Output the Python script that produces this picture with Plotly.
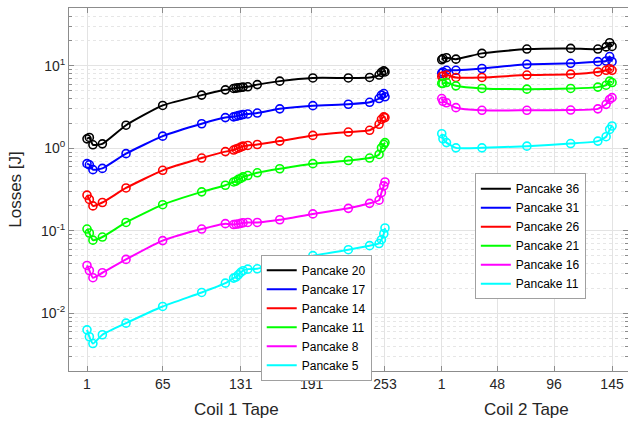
import plotly.graph_objects as go
import math

# ---------------- data ----------------
coil1_tape = [1, 3, 6, 14, 34, 65, 98, 118, 125, 127, 129, 131, 133, 137, 145,
              164, 192, 222, 240, 248, 250, 252, 253]
coil2_tape = [1, 2, 5, 13, 35, 73, 110, 133, 140, 143, 145]
coil2_offset = 300  # coil 2 drawn to the right of coil 1 on a shared axis

coil1_names = ["Pancake 20", "Pancake 17", "Pancake 14", "Pancake 11", "Pancake 8", "Pancake 5"]
coil2_names = ["Pancake 36", "Pancake 31", "Pancake 26", "Pancake 21", "Pancake 16", "Pancake 11"]
colors = ["#000000", "#0000ff", "#ff0000", "#00ff00", "#ff00ff", "#00ffff"]

p20 = [1.30, 1.35, 1.10, 1.13, 1.90, 3.3, 4.4, 5.1, 5.3, 5.35, 5.4, 5.45, 5.5, 5.55, 5.9,
       6.5, 7.1, 7.1, 7.2, 7.7, 8.3, 8.65, 8.4]
p17 = [0.65, 0.63, 0.55, 0.57, 0.86, 1.40, 1.98, 2.35, 2.40, 2.44, 2.48, 2.52, 2.56, 2.60, 2.67,
       3.0, 3.28, 3.41, 3.6, 4.0, 4.4, 4.6, 4.2]
p14 = [0.27, 0.24, 0.20, 0.22, 0.33, 0.54, 0.76, 0.91, 0.95, 0.98, 1.0, 1.03, 1.06, 1.08, 1.11,
       1.22, 1.43, 1.57, 1.65, 1.95, 2.24, 2.4, 2.35]
p11a = [0.105, 0.094, 0.077, 0.084, 0.126, 0.207, 0.296, 0.356, 0.39, 0.40, 0.42, 0.43, 0.45, 0.467, 0.504,
        0.564, 0.65, 0.71, 0.76, 0.84, 1.01, 1.11, 1.17]
p8 = [0.038, 0.033, 0.027, 0.031, 0.045, 0.076, 0.105, 0.122, 0.119, 0.120, 0.121, 0.123, 0.125, 0.126, 0.126,
      0.136, 0.16, 0.187, 0.215, 0.235, 0.29, 0.35, 0.39]
p5 = [0.0063, 0.0052, 0.0043, 0.0055, 0.0076, 0.0121, 0.0179, 0.0232, 0.0267, 0.0275, 0.0293, 0.0313, 0.0328,
      0.0343, 0.0346, 0.041, 0.050, 0.059, 0.066, 0.070, 0.078, 0.092, 0.108]

p36 = [11.8, 12.2, 12.5, 12.0, 14.1, 15.9, 16.2, 15.9, 16.9, 19.0, 17.1]
p31 = [8.1, 8.4, 8.8, 8.8, 9.25, 10.4, 10.7, 11.2, 11.4, 12.9, 11.2]
p26 = [7.4, 7.5, 7.7, 7.2, 7.2, 7.7, 7.9, 8.4, 8.8, 9.2, 8.8]
p21 = [6.1, 6.1, 6.25, 5.7, 5.3, 5.2, 5.3, 5.5, 5.8, 6.5, 6.25]
p16 = [4.0, 3.7, 3.55, 3.1, 2.88, 2.88, 2.9, 3.0, 3.4, 3.9, 4.1]
p11b = [1.5, 1.3, 1.17, 1.01, 1.01, 1.06, 1.14, 1.22, 1.38, 1.69, 1.86]

coil1_series = [p20, p17, p14, p11a, p8, p5]
coil2_series = [p36, p31, p26, p21, p16, p11b]

tick_vals_1 = [1, 65, 131, 191, 253]
tick_vals_2 = [1, 48, 96, 145]
y_tick_vals = [0.01, 0.1, 1, 10]
y_tick_text = ["10<sup>-2</sup>", "10<sup>-1</sup>", "10<sup>0</sup>", "10<sup>1</sup>"]

# ---------------- figure ----------------
fig = go.Figure()
coil2_x = [t + coil2_offset for t in coil2_tape]


def add_series(xs, ys, color):
    fig.add_trace(go.Scatter(
        x=xs, y=ys, mode="lines+markers", showlegend=False,
        line=dict(color=color, width=2, shape="spline", smoothing=0.5),
        marker=dict(symbol="circle-open", size=8, color=color, line=dict(width=1.6, color=color)),
    ))


for ys, c in zip(coil1_series, colors):
    add_series(coil1_tape, ys, c)
for ys, c in zip(coil2_series, colors):
    add_series(coil2_x, ys, c)

# legend-only entries (line only)
for n, c in zip(coil1_names, colors):
    fig.add_trace(go.Scatter(x=[None], y=[None], mode="lines", name=n,
                             line=dict(color=c, width=2), legend="legend"))
for n, c in zip(coil2_names, colors):
    fig.add_trace(go.Scatter(x=[None], y=[None], mode="lines", name=n,
                             line=dict(color=c, width=2), legend="legend2"))

axis_color = "#8c8c8c"
font_fam = "Liberation Sans, Arial, sans-serif"
legend_common = dict(
    bgcolor="white", bordercolor="#a0a0a0", borderwidth=1,
    font=dict(family=font_fam, size=12, color="#000000"),
    xanchor="left", yanchor="top", itemwidth=30, tracegroupgap=0,
)

fig.update_layout(
    width=628, height=424,
    margin=dict(l=69, r=0, t=8, b=53),
    plot_bgcolor="white", paper_bgcolor="white",
    font=dict(family=font_fam, size=14, color="#262626"),
    legend=dict(x=0.343, y=0.320, **legend_common),
    legend2=dict(x=0.726, y=0.545, **legend_common),
    xaxis=dict(
        range=[-14.22, 458.5],
        tickmode="array",
        tickvals=tick_vals_1 + [t + coil2_offset for t in tick_vals_2],
        ticktext=[str(v) for v in tick_vals_1] + [str(v) for v in tick_vals_2],
        ticks="inside", ticklen=5, tickcolor=axis_color,
        showline=True, linecolor=axis_color, linewidth=1, mirror="ticks",
        showgrid=True, gridcolor="#e3e3e3", gridwidth=1,
        zeroline=False,
        tickfont=dict(size=14, color="#262626"),
    ),
    yaxis=dict(
        type="log",
        range=[math.log10(0.002), math.log10(50)],
        tickmode="array", tickvals=y_tick_vals, ticktext=y_tick_text,
        ticks="inside", ticklen=5, tickcolor=axis_color,
        showline=True, linecolor=axis_color, linewidth=1, mirror="ticks",
        showgrid=True, gridcolor="#e3e3e3", gridwidth=1,
        minor=dict(ticks="inside", ticklen=3, tickcolor=axis_color, dtick="D1",
                   showgrid=True, gridcolor="#e6e6e6", griddash="dot"),
        zeroline=False,
        tickfont=dict(size=14, color="#262626"),
        title=dict(text="Losses [J]", font=dict(size=17, color="#262626"), standoff=14),
    ),
    annotations=[
        dict(text="Coil 1 Tape", x=127, y=-0.105, xref="x", yref="paper",
             showarrow=False, xanchor="center", yanchor="middle",
             font=dict(size=17, color="#262626")),
        dict(text="Coil 2 Tape", x=73 + coil2_offset, y=-0.105, xref="x", yref="paper",
             showarrow=False, xanchor="center", yanchor="middle",
             font=dict(size=17, color="#262626")),
    ],
)

fig.write_html("out.html")
